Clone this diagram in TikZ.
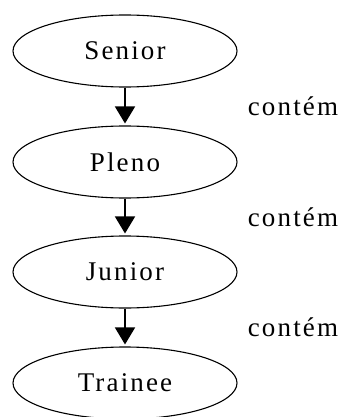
\documentclass[tikz,border=0pt]{standalone}
\usepackage{fontspec}
\setmainfont{Liberation Serif}[LetterSpace=8]
\usetikzlibrary{shapes.geometric,arrows.meta}

\tikzset{
    level/.style={ellipse, draw, line width=1.1pt, inner sep=0pt,
        minimum width=224pt, minimum height=72pt,
        font=\fontsize{27}{31}\selectfont},
    conn/.style={line width=1.5pt, -{Triangle[width=20pt,length=17pt]}, shorten >=2pt},
    rel/.style={font=\fontsize{27}{31}\selectfont, xshift=168pt}
}

\begin{document}
\begin{tikzpicture}[x=1pt, y=-1pt]
    \useasboundingbox (0,0) rectangle (344,417);
    % the four levels, top to bottom
    \foreach \name/\txt/\y in {senior/Senior/51, pleno/Pleno/162, junior/Junior/272, trainee/Trainee/383}
        \node[level] (\name) at (125,\y) {\txt};
    % each level holds the next one
    \foreach \a/\b in {senior/pleno, pleno/junior, junior/trainee}
        \draw[conn] (\a) -- node[rel] {contém} (\b);
\end{tikzpicture}
\end{document}
